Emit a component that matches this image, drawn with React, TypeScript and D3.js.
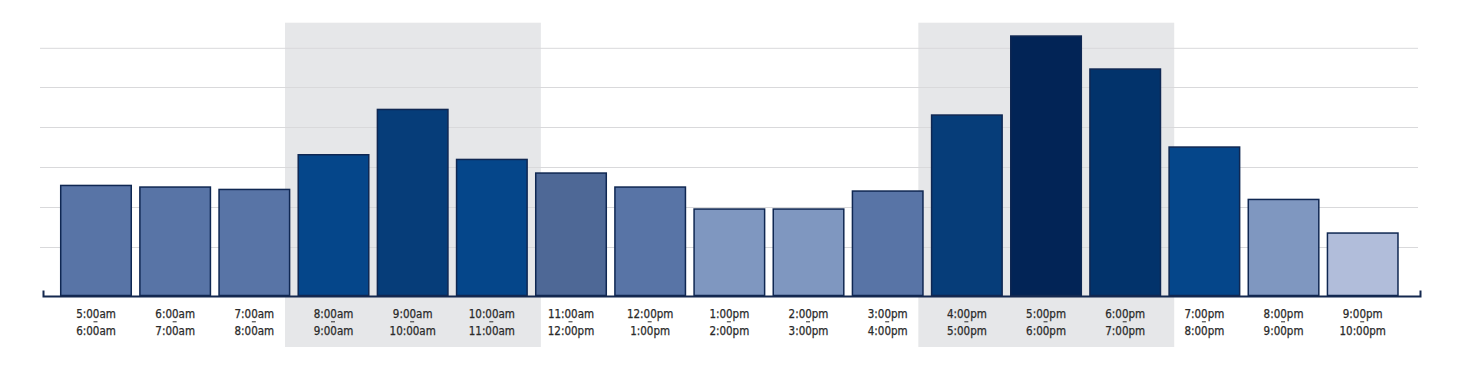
import React from "react";
import * as d3 from "d3";

const startTimes = ["5:00am","6:00am","7:00am","8:00am","9:00am","10:00am","11:00am","12:00pm","1:00pm","2:00pm","3:00pm","4:00pm","5:00pm","6:00pm","7:00pm","8:00pm","9:00pm"];
const endTimes = ["6:00am","7:00am","8:00am","9:00am","10:00am","11:00am","12:00pm","1:00pm","2:00pm","3:00pm","4:00pm","5:00pm","6:00pm","7:00pm","8:00pm","9:00pm","10:00pm"];
const values = [111.8,110.2,107.8,142.5,187.8,137.8,124.2,110.2,88.2,88.2,106.2,182.2,261.2,228.2,150.2,97.8,64.2];
const gridValues = [49,89,129,169,209,248.2];
const highlightRanges: [number, number][] = [[3,5],[11,13]];
const barColors = ["#5874a6","#5874a6","#5874a6","#05468a","#063d79","#05468a","#4e6896","#5874a6","#7f97c0","#7f97c0","#5874a6","#063d79","#022456","#02336b","#05468a","#7f97c0","#b1bdda"];

const W = 1463, H = 377;

export default function App() {
  const x = d3.scaleBand<number>()
    .domain(d3.range(values.length))
    .range([56.4, 1402.3])
    .paddingInner(0.09)
    .paddingOuter(0.045);
  const y = d3.scaleLinear().domain([0, 270]).range([296.5, 26.5]);
  const bw = x.bandwidth();
  const base = y(0) - 1;

  return (
    <svg width={W} height={H} style={{ position: "absolute", left: 0, top: 0, display: "block" }}>
      <rect x={0} y={0} width={W} height={H} fill="#ffffff" />
      {highlightRanges.map(([a, b], i) => (
        <rect key={"h" + i} x={(x(a) as number) - 12.5} y={22.7}
          width={(x(b) as number) + bw + 13 - ((x(a) as number) - 12.5)} height={347 - 22.7}
          fill="#e6e7e9" />
      ))}
      {gridValues.map((g, i) => (
        <line key={"g" + i} x1={40} x2={1418} y1={y(g)} y2={y(g)} stroke="#d9d9db" strokeWidth={1} />
      ))}
      {values.map((v, i) => (
        <rect key={"b" + i} x={(x(i) as number) + 0.75} y={y(v) + 0.75}
          width={bw - 1.5} height={base - y(v) - 0.75}
          fill={barColors[i]} stroke="#0f2752" strokeWidth={1.5} />
      ))}
      <path d={`M43.5,290.5 V296.5 H1420.5 V290.5`} fill="none" stroke="#14284f" strokeWidth={2} />
      {values.map((_, i) => {
        const cx = (x(i) as number) + bw / 2;
        return (
          <g key={"t" + i}>
            <text x={cx} y={318} textAnchor="middle"
              fontFamily="'DejaVu Sans Condensed', 'DejaVu Sans', sans-serif"
              fontSize={11.5} fill="#2a2a2a" stroke="#2a2a2a" strokeWidth={0.25}>
              {startTimes[i]}
            </text>
            <line x1={cx - 2.5} x2={cx + 1.5} y1={321.8} y2={321.8} stroke="#2a2a2a" strokeWidth={1} />
            <text x={cx} y={335.3} textAnchor="middle"
              fontFamily="'DejaVu Sans Condensed', 'DejaVu Sans', sans-serif"
              fontSize={11.5} fill="#2a2a2a" stroke="#2a2a2a" strokeWidth={0.25}>
              {endTimes[i]}
            </text>
          </g>
        );
      })}
    </svg>
  );
}
